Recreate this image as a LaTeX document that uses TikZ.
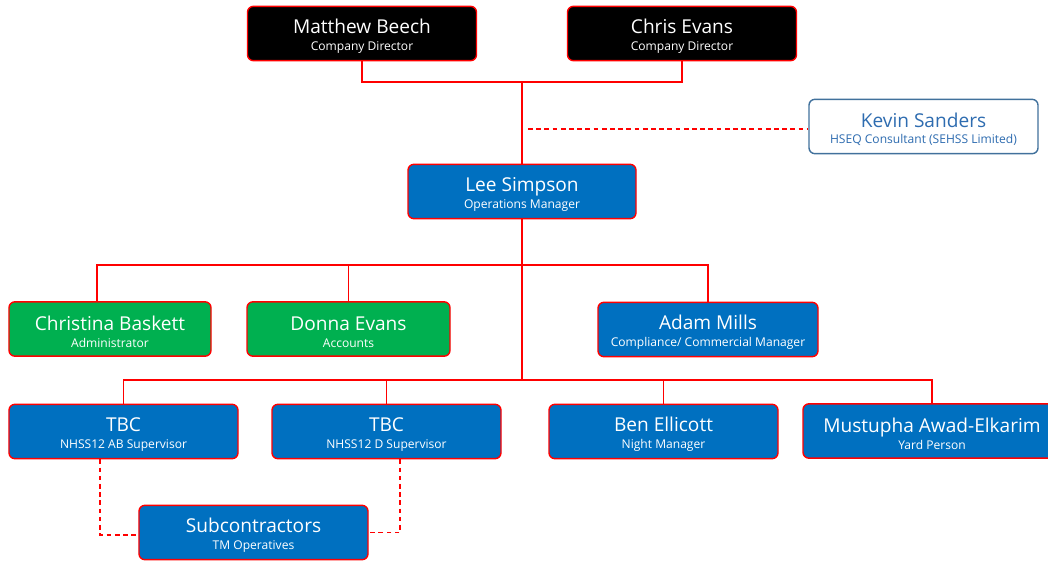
\documentclass[tikz,border=0pt]{standalone}
\usepackage{fontspec}
\setmainfont{Open Sans}
\usetikzlibrary{positioning}
\definecolor{boxblue}{RGB}{0,112,192}
\definecolor{boxgreen}{RGB}{0,176,80}
\definecolor{consultline}{RGB}{65,113,156}
\definecolor{consulttext}{RGB}{46,108,176}
\newcommand{\Person}[2]{\rule{0pt}{17pt}{\fontsize{16.3}{17}\selectfont #1}\\[2pt]{\fontsize{10.3}{11}\selectfont #2}}
\begin{document}
\begin{tikzpicture}[x=0.03cm,y=-0.03cm,
		card/.style={draw=red, line width=1.2pt, rounded corners=5pt, text=white,
			align=center, minimum height=1.63cm, minimum width=6.87cm, inner sep=1pt},
		bluecard/.style={card, fill=boxblue},
		greencard/.style={card, fill=boxgreen},
		blackcard/.style={card, fill=black},
		link/.style={draw=red, line width=1.2pt},
		dashlink/.style={link, dash pattern=on 4pt off 3pt}
	]
	\useasboundingbox (0,0) rectangle (1048,561);
	% directors
	\node[blackcard] (mb) at (362,33.5) {\Person{Matthew Beech}{Company Director}};
	\node[blackcard] (ce) at (682,33.5) {\Person{Chris Evans}{Company Director}};
	% consultant
	\node[card, fill=white, draw=consultline, text=consulttext] (ks) at (923.5,126.5)
		{\Person{Kevin Sanders}{HSEQ Consultant (SEHSS Limited)}};
	% operations
	\node[bluecard, minimum width=6.84cm] (ls) at (522,191.5) {\Person{Lee Simpson}{Operations Manager}};
	% office
	\node[greencard, minimum width=6.06cm] (cb) at (110,329) {\Person{Christina Baskett}{Administrator}};
	\node[greencard, minimum width=6.09cm] (de) at (348.5,329) {\Person{Donna Evans}{Accounts}};
	\node[bluecard, minimum width=6.6cm] (am) at (708,329.5) {\Person{Adam Mills}{Compliance/ Commercial Manager}};
	% site
	\node[bluecard] (t1) at (123.5,431.5) {\Person{TBC}{NHSS12 AB Supervisor}};
	\node[bluecard] (t2) at (386.5,431.5) {\Person{TBC}{NHSS12 D Supervisor}};
	\node[bluecard] (be) at (663.5,431.5) {\Person{Ben Ellicott}{Night Manager}};
	\node[bluecard, minimum width=7.74cm] (yp) at (932,431) {\Person{Mustupha Awad-Elkarim}{Yard Person}};
	\node[bluecard] (sc) at (253.5,532.5) {\Person{Subcontractors}{TM Operatives}};

	\coordinate (j1) at (522,82);
	\coordinate (j2) at (522,265);
	\coordinate (j3) at (522,380);
	\coordinate (k1) at (528,129);

	\draw[link] (mb.south) |- (j1) -| (ce.south);
	\draw[link] (j1) -- (ls.north);
	\draw[dashlink] (k1) -- (k1 -| ks.west);
	\draw[link] (ls.south) -- (j3);
	\draw[link] ([xshift=-0.39cm]cb.north) |- (j2) -| (am.north);
	\draw[link] (j2) -| (de.north);
	\draw[link] (t1.north) |- (j3) -| (yp.north);
	\draw[link] (j3) -| (t2.north);
	\draw[link] (j3) -| (be.north);
	\draw[dashlink] ([xshift=-0.7cm]t1.south) |- ([yshift=-0.07cm]sc.west);
	\draw[dashlink] ([xshift=0.41cm]t2.south) |- (sc.east);
\end{tikzpicture}
\end{document}
